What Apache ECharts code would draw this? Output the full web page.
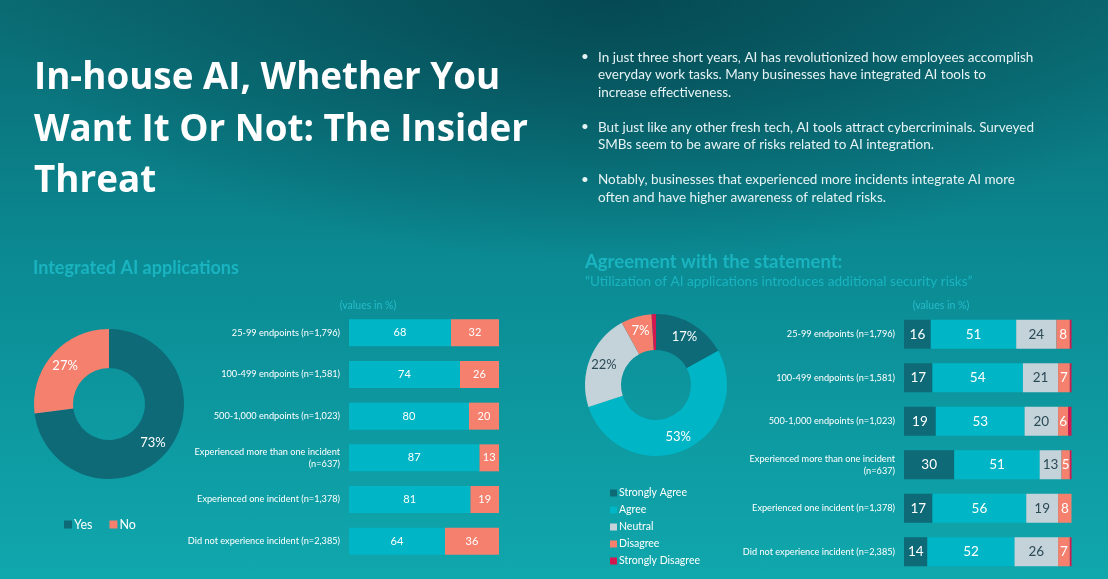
<!DOCTYPE html>
<html>
<head>
<meta charset="utf-8">
<script src="https://cdn.jsdelivr.net/npm/echarts@6/dist/echarts.min.js"></script>
<style>
  html, body { margin: 0; padding: 0; }
  body {
    width: 1108px; height: 579px; overflow: hidden;
    background:
      radial-gradient(ellipse 55% 45% at 55% 0%, rgba(3,62,72,0.75), rgba(3,62,72,0) 100%),
      linear-gradient(180deg, #0a6a72 0%, #0b8a93 45%, #10a7ad 100%);
  }
  #chart { width: 1108px; height: 579px; }
</style>
</head>
<body>
<div id="chart"></div>
<script>
// ---------- data ----------
const titleText = 'In-house AI, Whether You\nWant It Or Not: The Insider\nThreat';
const bulletText = 'In just three short years, AI has revolutionized how employees accomplish\neveryday work tasks. Many businesses have integrated AI tools to\nincrease effectiveness.\n\nBut just like any other fresh tech, AI tools attract cybercriminals. Surveyed\nSMBs seem to be aware of risks related to AI integration.\n\nNotably, businesses that experienced more incidents integrate AI more\noften and have higher awareness of related risks.';
const segments = [
  '25-99 endpoints (n=1,796)',
  '100-499 endpoints (n=1,581)',
  '500-1,000 endpoints (n=1,023)',
  'Experienced more than one incident\n(n=637)',
  'Experienced one incident (n=1,378)',
  'Did not experience incident (n=2,385)'
];
const aiNames = ['Yes', 'No'];
const aiOverall = [73, 27];
const aiYes = [68, 74, 80, 87, 81, 64];
const aiNo  = [32, 26, 20, 13, 19, 36];

const agreeNames = ['Strongly Agree', 'Agree', 'Neutral', 'Disagree', 'Strongly Disagree'];
const agreeOverall = [17, 53, 22, 7, 1];
const strongAgree    = [16, 17, 19, 30, 17, 14];
const agree          = [51, 54, 53, 51, 56, 52];
const neutral        = [24, 21, 20, 13, 19, 26];
const disagree       = [8, 7, 6, 5, 8, 7];
const strongDisagree = [1, 1, 2, 1, 1, 1];

// ---------- styles ----------
const FONT = 'Lato';
const C_DARK = '#0e6a77';
const C_CYAN = '#00b6c6';
const C_GREY = '#c4d3da';
const C_SALMON = '#f4806d';
const C_RED = '#d3174f';
const C_TITLE2 = '#1ab4c1';

const chart = echarts.init(document.getElementById('chart'), null, { renderer: 'canvas' });

const agreeColors = [C_DARK, C_CYAN, C_GREY, C_SALMON, C_RED];
const agreeLabelColors = ['#ffffff', '#ffffff', '#2b4a56', '#ffffff', '#ffffff'];
const agreeSeriesData = [strongAgree, agree, neutral, disagree, strongDisagree];

const option = {
  backgroundColor: 'transparent',
  animation: false,
  textStyle: { fontFamily: FONT },
  title: [
    { text: titleText, left: 34, top: 53, padding: 0,
      textStyle: { color: '#ffffff', fontFamily: 'Open Sans', fontWeight: 'bold', fontSize: 36.8, lineHeight: 51.5 } },
    { text: '•\n\n\n\n•\n\n\n•', left: 581, top: 48, padding: 0,
      textStyle: { color: '#e6f3f4', fontFamily: FONT, fontWeight: 'normal', fontSize: 13.5, lineHeight: 17.5 } },
    { text: bulletText, left: 598, top: 48.5, padding: 0,
      textStyle: { color: '#e6f3f4', fontFamily: FONT, fontWeight: 'normal', fontSize: 13.5, lineHeight: 17.5 } },
    { text: 'Integrated AI applications', left: 33, top: 259, padding: 0,
      textStyle: { color: C_TITLE2, fontFamily: FONT, fontWeight: 'bold', fontSize: 18 } },
    { text: 'Agreement with the statement:', left: 585, top: 253, padding: 0,
      textStyle: { color: C_TITLE2, fontFamily: FONT, fontWeight: 'bold', fontSize: 18.5 } },
    { text: '\u201cUtilization of AI applications introduces additional security risks\u201d', left: 585, top: 275, padding: 0,
      textStyle: { color: C_TITLE2, fontFamily: FONT, fontWeight: 'normal', fontSize: 13.6 } },
    { text: '(values in %)', left: 368, top: 300, textAlign: 'center', padding: 0,
      textStyle: { color: '#26bccb', fontFamily: FONT, fontWeight: 'normal', fontSize: 10.5 } },
    { text: '(values in %)', left: 941, top: 300, textAlign: 'center', padding: 0,
      textStyle: { color: '#26bccb', fontFamily: FONT, fontWeight: 'normal', fontSize: 10.5 } }
  ],
  legend: [
    { data: aiNames, orient: 'horizontal', left: 64, top: 518, padding: 0,
      icon: 'rect', itemWidth: 8, itemHeight: 8, itemGap: 17,
      textStyle: { color: '#ffffff', fontFamily: FONT, fontSize: 12.5, padding: [0, 0, 0, -3] },
      selectedMode: false },
    { data: agreeNames, orient: 'vertical', left: 610, top: 487, padding: 0,
      icon: 'rect', itemWidth: 7, itemHeight: 7, itemGap: 5,
      textStyle: { color: '#ffffff', fontFamily: FONT, fontSize: 10.5, lineHeight: 12, padding: [0, 0, 0, -3] },
      selectedMode: false }
  ],
  grid: [
    { left: 349, right: 1108 - 499, top: 312, height: 250 },
    { left: 904, right: 1108 - 1071.5, top: 312.5, height: 261 }
  ],
  xAxis: [
    { type: 'value', gridIndex: 0, min: 0, max: 100, show: false },
    { type: 'value', gridIndex: 1, min: 0, max: 100, show: false }
  ],
  yAxis: [
    { type: 'category', gridIndex: 0, data: segments, inverse: true,
      axisLine: { show: false }, axisTick: { show: false }, splitLine: { show: false },
      axisLabel: { color: '#ffffff', fontFamily: FONT, fontSize: 9.2, lineHeight: 12, margin: 9 } },
    { type: 'category', gridIndex: 1, data: segments, inverse: true,
      axisLine: { show: false }, axisTick: { show: false }, splitLine: { show: false },
      axisLabel: { color: '#ffffff', fontFamily: FONT, fontSize: 9.2, lineHeight: 12, margin: 9 } }
  ],
  series: [
    { type: 'pie', name: 'Integrated AI', center: [109, 404], radius: [36, 75],
      startAngle: 90, clockwise: true, silent: true,
      data: aiNames.map((n, i) => ({ name: n, value: aiOverall[i],
        itemStyle: { color: [C_DARK, C_SALMON][i] } })),
      label: { position: 'inside', formatter: '{c}%', color: '#ffffff', fontFamily: FONT, fontSize: 13 },
      labelLine: { show: false } },
    { type: 'pie', name: 'Agreement', center: [656, 385], radius: [35, 71],
      startAngle: 90, clockwise: true, silent: true,
      data: agreeNames.map((n, i) => ({ name: n, value: agreeOverall[i],
        itemStyle: { color: agreeColors[i] },
        label: { show: i < 4, color: agreeLabelColors[i] } })),
      label: { position: 'inside', formatter: '{c}%', fontFamily: FONT, fontSize: 13 },
      labelLine: { show: false } },
    { type: 'bar', name: 'AI yes by segment', stack: 'ai', xAxisIndex: 0, yAxisIndex: 0,
      data: aiYes, barWidth: 27, itemStyle: { color: C_CYAN }, silent: true,
      label: { show: true, position: 'inside', color: '#ffffff', fontFamily: FONT, fontSize: 11 } },
    { type: 'bar', name: 'AI no by segment', stack: 'ai', xAxisIndex: 0, yAxisIndex: 0,
      data: aiNo, barWidth: 27, itemStyle: { color: C_SALMON }, silent: true,
      label: { show: true, position: 'inside', color: '#ffffff', fontFamily: FONT, fontSize: 11 } },
    ...agreeNames.map((n, i) => ({
      type: 'bar', name: n, stack: 'agree', xAxisIndex: 1, yAxisIndex: 1,
      data: agreeSeriesData[i], barWidth: 29, itemStyle: { color: agreeColors[i] }, silent: true,
      label: { show: i < 4, position: 'inside', color: agreeLabelColors[i], fontFamily: FONT, fontSize: 13.5 }
    }))
  ]
};
chart.setOption(option);
</script>
</body>
</html>
